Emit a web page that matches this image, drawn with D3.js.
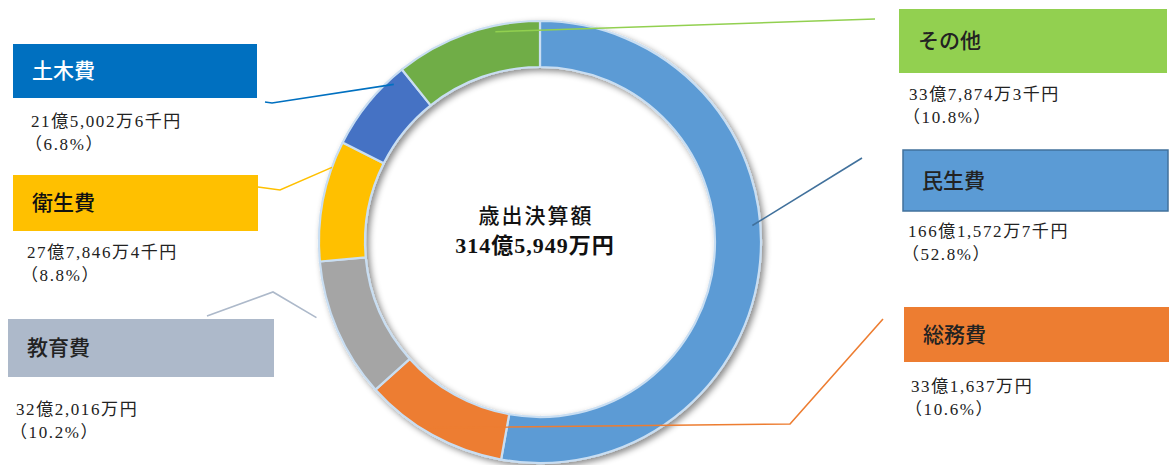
<!DOCTYPE html>
<html><head><meta charset="utf-8">
<script src="https://cdn.jsdelivr.net/npm/d3@7"></script>
<style>
html,body{margin:0;padding:0;background:#fff;}
svg{display:block;}
</style></head>
<body>
<svg id="chart" width="1169" height="465"></svg>
<script>
// ---- data ----
const categories = ["民生費", "総務費", "教育費", "衛生費", "土木費", "その他"];
const values = [16615727, 3316370, 3220160, 2778464, 2150026, 3378743]; // 千円
const amountLabels = ["166億1,572万7千円", "33億1,637万円", "32億2,016万円", "27億7,846万4千円", "21億5,002万6千円", "33億7,874万3千円"];
const percentLabels = ["（52.8%）", "（10.6%）", "（10.2%）", "（8.8%）", "（6.8%）", "（10.8%）"];
const sliceColors = ["#5b9bd5", "#ed7d31", "#a5a5a5", "#ffc000", "#4472c4", "#70ad47"];
const boxColors = ["#5b9bd5", "#ed7d31", "#adb9ca", "#ffc000", "#0070c0", "#92d050"];
const centerTitle = "歳出決算額";
const centerTotal = "314億5,949万円";

// ---- layout ----
const svg = d3.select("#chart");
const cx = 540, cy = 242, rOuter = 221, rInner = 175;
const fontMix = "'Liberation Serif','Noto Sans CJK JP',serif";
const fontNum = "'Liberation Serif','Noto Sans CJK JP',serif";

// label layout per category (box rect, text positions, leader line)
const layout = {
  "民生費": {box:[903,150,265,61], text:"#222", stroke:"#41719c", amt:[908,237], leadFrac:0.45, leadR:213, elbows:[[862,158]], line:"#41719c"},
  "総務費": {box:[904,307,265,55], text:"#222", stroke:null, amt:[911,392], leadFrac:0.54, leadR:216, elbows:[[790,424],[883,319]], line:"#ed7d31"},
  "教育費": {box:[8,319,266,58], text:"#222", stroke:null, amt:[16,415], leadFrac:0.63, leadR:236, elbows:[[273,292],[207,316]], line:"#adb9ca"},
  "衛生費": {box:[13,175,245,56], text:"#111", stroke:null, amt:[27,258], leadFrac:0.78, leadR:221, elbows:[[280,190],[258,187]], line:"#ffc000"},
  "土木費": {box:[13,44,244,54], text:"#fff", stroke:null, amt:[31,127], leadFrac:0.83, leadR:215, elbows:[[272,103],[265,102]], line:"#0070c0"},
  "その他": {box:[899,9,268,64], text:"#222", stroke:null, amt:[909,100], leadFrac:0.69, leadR:215, elbows:[[875,19]], line:"#92d050"}
};

// ---- defs ----
const defs = svg.append("defs");
const f = defs.append("filter").attr("id","shadow").attr("x","-20%").attr("y","-20%").attr("width","140%").attr("height","140%");
f.append("feDropShadow").attr("dx",3).attr("dy",3).attr("stdDeviation",3).attr("flood-color","#000").attr("flood-opacity",0.45);

// ---- donut ----
const pie = d3.pie().sort(null).value(d => d.v);
const arcs = pie(categories.map((c,i) => ({c, v: values[i], i})));
const arc = d3.arc().innerRadius(rInner).outerRadius(rOuter);

const g = svg.append("g").attr("transform", `translate(${cx},${cy})`);
g.append("g").attr("filter","url(#shadow)")
  .selectAll("path").data(arcs).join("path")
  .attr("d", arc)
  .attr("fill", d => sliceColors[d.data.i])
  .attr("stroke", "#c9def2")
  .attr("stroke-width", 2.2)
  .attr("stroke-linejoin","round");

// ---- leader lines ----
arcs.forEach(d => {
  const L = layout[d.data.c];
  const a = d.startAngle + (d.endAngle - d.startAngle) * L.leadFrac;
  const p0 = [cx + L.leadR * Math.sin(a), cy - L.leadR * Math.cos(a)];
  const pts = [p0, ...L.elbows];
  svg.append("path")
    .attr("d", d3.line()(pts))
    .attr("fill","none")
    .attr("stroke", L.line)
    .attr("stroke-width", 1.6);
});

// ---- label boxes and text ----
arcs.forEach(d => {
  const i = d.data.i, L = layout[d.data.c];
  const [bx,by,bw,bh] = L.box;
  svg.append("rect").attr("x",bx).attr("y",by).attr("width",bw).attr("height",bh)
    .attr("fill", boxColors[i])
    .attr("stroke", L.stroke || "none").attr("stroke-width", L.stroke ? 1.5 : 0);
  svg.append("text")
    .attr("x", bx + 19).attr("y", by + bh/2 + 7)
    .attr("font-family", "'Noto Sans CJK JP',sans-serif")
    .attr("font-size", 21).attr("font-weight", 500)
    .attr("fill", L.text)
    .text(categories[i]);
  svg.append("text")
    .attr("x", L.amt[0]).attr("y", L.amt[1])
    .attr("font-family", fontNum).attr("font-size", 17)
    .attr("letter-spacing", 1.6)
    .attr("fill", "#222")
    .text(amountLabels[i]);
  svg.append("text")
    .attr("x", L.amt[0] - 6).attr("y", L.amt[1] + 23)
    .attr("font-family", fontNum).attr("font-size", 17)
    .attr("letter-spacing", 1.6)
    .attr("fill", "#222")
    .text(percentLabels[i]);
});

// ---- center text ----
svg.append("text").attr("x", 536).attr("y", 223).attr("text-anchor","middle")
  .attr("font-family","'Noto Sans CJK JP',sans-serif").attr("font-size",21).attr("font-weight",500)
  .attr("letter-spacing", 2).attr("fill","#111").text(centerTitle);
svg.append("text").attr("x", 535).attr("y", 253).attr("text-anchor","middle")
  .attr("font-family",fontMix).attr("font-size",22).attr("font-weight",700)
  .attr("letter-spacing", 1).attr("fill","#111").text(centerTotal);
</script>
</body></html>
